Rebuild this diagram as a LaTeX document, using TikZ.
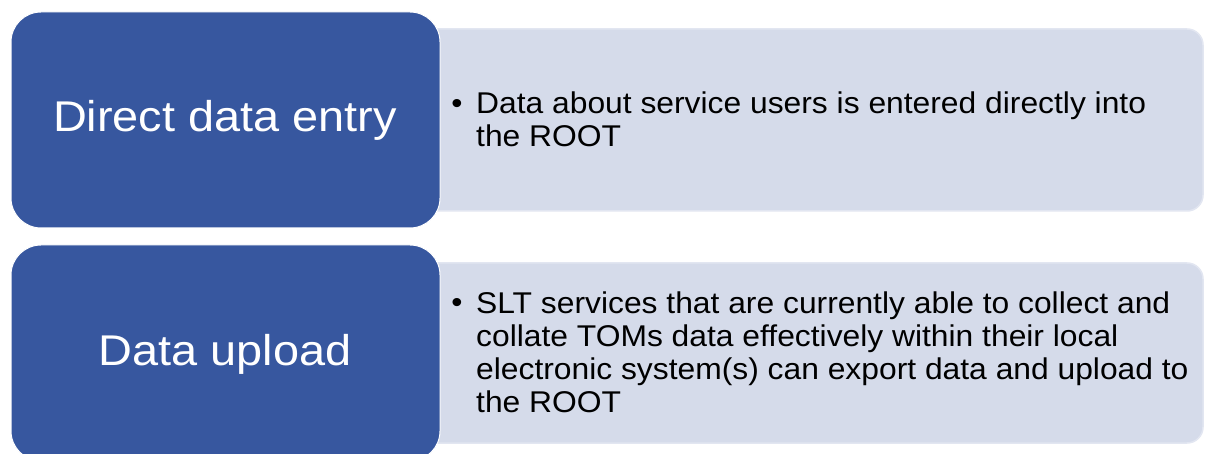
\documentclass[tikz,border=0pt]{standalone}
\usepackage{fontspec}
\setmainfont{Liberation Sans}
\newfontfamily\titlefont[FakeStretch=1.09]{Liberation Sans}
\newfontfamily\bodyfont[FakeStretch=1.06]{Liberation Sans}
\definecolor{catblue}{RGB}{55,87,159}
\definecolor{panelfill}{RGB}{213,219,234}
\definecolor{panelrim}{RGB}{226,230,241}
\tikzset{
  catbox/.style={draw=white, line width=1pt, fill=catblue, rounded corners=30pt,
    anchor=north west, inner sep=0pt, outer sep=0pt,
    minimum width=429pt, minimum height=216pt},
  panel/.style={draw=panelrim, line width=1.5pt, fill=panelfill, rounded corners=16pt,
    anchor=north west, inner sep=0pt, outer sep=0pt, minimum width=783pt},
  cattitle/.style={text=white, anchor=base, inner sep=0pt,
    font=\titlefont\fontsize{43}{48}\selectfont},
  bulletmark/.style={anchor=base, inner sep=0pt, font=\bodyfont\fontsize{30}{33}\selectfont},
  bodytext/.style={anchor=north west, inner sep=0pt, align=left,
    font=\bodyfont\fontsize{30}{33}\selectfont}
}
\begin{document}
\begin{tikzpicture}[x=1pt,y=-1pt]
\useasboundingbox[fill=white] (0,0) rectangle (1205,454);
\clip (0,0) rectangle (1205,454);

% description panels (behind the category boxes)
\node[panel, minimum height=182pt] (panelA) at (420,29) {};
\node[panel, minimum height=180pt] (panelB) at (420,263) {};

% category boxes
\node[catbox] (boxA) at (11,12) {};
\node[catbox] (boxB) at (11,245) {};

% category titles
\node[cattitle] (titleA) at (225,131.5) {Direct data entry};
\node[cattitle] (titleB) at (225,365) {Data upload};

% bulleted descriptions
\node[bulletmark] (bulA) at (457,113.5) {•};
\node[bodytext] (textA) at (476,92) {Data about service users is entered directly into\\the ROOT};

\node[bulletmark] (bulB) at (457,313) {•};
\node[bodytext] (textB) at (476,291.5) {SLT services that are currently able to collect and\\collate TOMs data effectively within their local\\electronic system(s) can export data and upload to\\the ROOT};
\end{tikzpicture}
\end{document}
